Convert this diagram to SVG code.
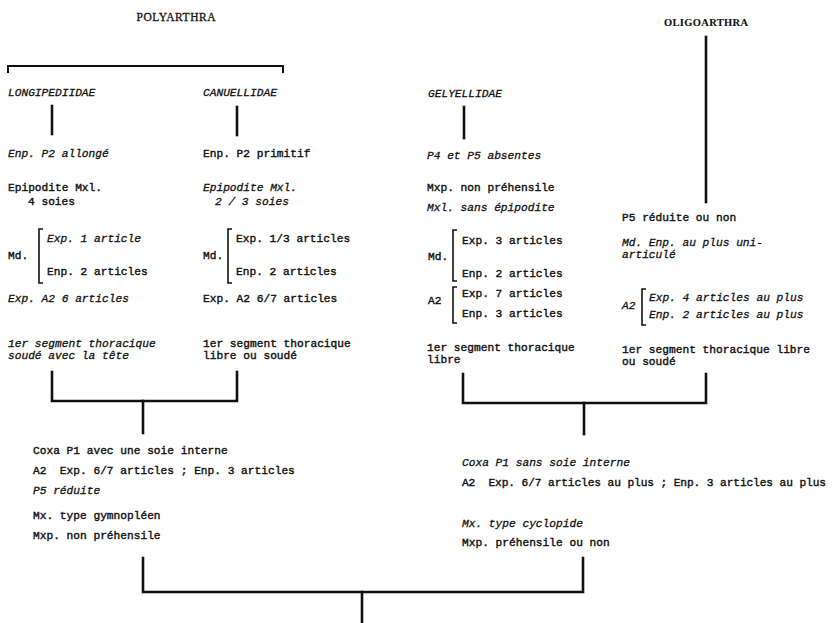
<svg xmlns="http://www.w3.org/2000/svg" width="833" height="623" viewBox="0 0 833 623">
<style>
text{font-family:"Liberation Mono","DejaVu Sans Mono",monospace;font-size:11.2px;fill:#111;stroke:#111;stroke-width:0.4;white-space:pre}
.i{font-style:italic;stroke-width:0.3}
.h{font-family:"Liberation Serif","Times New Roman",serif;font-size:11.5px;stroke-width:0.3}
.c line,.c path{stroke:#111;stroke-width:2.6;fill:none;stroke-linecap:square}
.b{stroke:#111;stroke-width:1.6;fill:none}
</style>
<rect width="833" height="623" fill="#fff"/>
<g class="c" id="connectors">
<path d="M8 72 V66 H283 V72" style="stroke-width:2"/>
<line x1="52" y1="106" x2="52" y2="134"/>
<line x1="237" y1="107" x2="237" y2="135"/>
<line x1="464" y1="107" x2="464" y2="138"/>
<line x1="706" y1="37" x2="706" y2="202"/>
<path d="M52 372 V401 H237 V372"/>
<line x1="143" y1="401" x2="143" y2="433"/>
<path d="M463 374 V403 H706 V374"/>
<line x1="584" y1="403" x2="584" y2="434"/>
<path d="M143 558 V592 H583 V558"/>
<line x1="362" y1="592" x2="362" y2="623"/>
</g>
<g id="polyarthra"><text class="h" x="176" y="21" text-anchor="middle" textLength="79">POLYARTHRA</text></g>
<g id="oligoarthra"><text class="h" x="706" y="26" text-anchor="middle" textLength="84" style="font-weight:bold;font-size:10.5px;stroke-width:0.1">OLIGOARTHRA</text></g>
<g id="longipediidae">
<text class="i" x="8" y="96">LONGIPEDIIDAE</text>
<text class="i" x="8" y="157">Enp. P2 allongé</text>
<text x="8" y="191">Epipodite Mxl.</text>
<text x="28" y="205">4 soies</text>
<text x="8" y="259">Md.</text>
<path class="b" d="M43 229 H39 V283 H43"/>
<text class="i" x="47" y="242">Exp. 1 article</text>
<text x="47" y="275">Enp. 2 articles</text>
<text class="i" x="8" y="302">Exp. A2 6 articles</text>
<text class="i" x="8" y="347">1er segment thoracique</text>
<text class="i" x="8" y="359">soudé avec la tête</text>
</g>
<g id="canuellidae">
<text class="i" x="203" y="96">CANUELLIDAE</text>
<text x="203" y="157">Enp. P2 primitif</text>
<text class="i" x="203" y="191">Epipodite Mxl.</text>
<text class="i" x="215" y="205">2 / 3 soies</text>
<text x="203" y="259">Md.</text>
<path class="b" d="M232 229 H228 V283 H232"/>
<text x="236" y="242">Exp. 1/3 articles</text>
<text x="236" y="275">Enp. 2 articles</text>
<text x="203" y="302">Exp. A2 6/7 articles</text>
<text x="203" y="347">1er segment thoracique</text>
<text x="203" y="359">libre ou soudé</text>
</g>
<g id="gelyellidae">
<text class="i" x="428" y="97">GELYELLIDAE</text>
<text class="i" x="427" y="159">P4 et P5 absentes</text>
<text x="427" y="191">Mxp. non préhensile</text>
<text class="i" x="427" y="211">Mxl. sans épipodite</text>
<text x="428" y="260">Md.</text>
<path class="b" d="M457 230 H453 V281 H457"/>
<text x="462" y="244">Exp. 3 articles</text>
<text x="462" y="277">Enp. 2 articles</text>
<text x="428" y="304">A2</text>
<path class="b" d="M457 287 H453 V323 H457"/>
<text x="462" y="297">Exp. 7 articles</text>
<text x="462" y="317">Enp. 3 articles</text>
<text x="427" y="351">1er segment thoracique</text>
<text x="427" y="363">libre</text>
</g>
<g id="oligo-traits">
<text x="622" y="221">P5 réduite ou non</text>
<text class="i" x="622" y="246">Md. Enp. au plus uni-</text>
<text class="i" x="622" y="258">articulé</text>
<text class="i" x="622" y="309">A2</text>
<path class="b" d="M646 289 H642 V325 H646"/>
<text class="i" x="649" y="301">Exp. 4 articles au plus</text>
<text class="i" x="649" y="318">Enp. 2 articles au plus</text>
<text x="622" y="353">1er segment thoracique libre</text>
<text x="622" y="365">ou soudé</text>
</g>
<g id="left-group">
<text x="33" y="454">Coxa P1 avec une soie interne</text>
<text x="33" y="474" xml:space="preserve">A2  Exp. 6/7 articles ; Enp. 3 articles</text>
<text class="i" x="33" y="494">P5 réduite</text>
<text x="33" y="519">Mx. type gymnopléen</text>
<text x="33" y="539">Mxp. non préhensile</text>
</g>
<g id="right-group">
<text class="i" x="462" y="466">Coxa P1 sans soie interne</text>
<text x="462" y="486" textLength="364" xml:space="preserve">A2  Exp. 6/7 articles au plus ; Enp. 3 articles au plus</text>
<text class="i" x="462" y="527">Mx. type cyclopide</text>
<text x="462" y="546">Mxp. préhensile ou non</text>
</g>
</svg>
